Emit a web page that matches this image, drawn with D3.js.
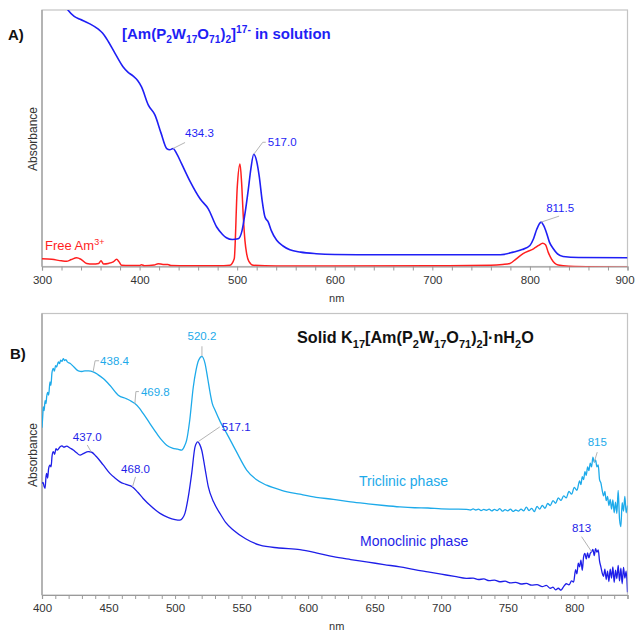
<!DOCTYPE html>
<html>
<head>
<meta charset="utf-8">
<script src="https://cdn.jsdelivr.net/npm/d3@7"></script>
<style>
  html, body { margin: 0; padding: 0; background: #fff; }
  svg { display: block; font-family: "Liberation Sans", Arial, sans-serif; }
</style>
</head>
<body>
<svg id="chart" width="636" height="631"></svg>
<script>
// ---------- Panel A: solution spectra (wavelength nm, absorbance a.u.) ----------
const complexSolution = [
  [314,1.08],[320,1.04],[326.6,1.0],[333,0.975],[339,0.964],[348,0.948],[357.7,0.925],
  [362,0.91],[366,0.889],[375,0.83],[383,0.779],[388,0.758],[393.5,0.742],[398,0.725],
  [402,0.700],[409,0.629],[415.8,0.590],[422,0.52],[427.8,0.460],[431,0.455],[434.3,0.460],
  [438,0.44],[443,0.401],[452,0.33],[462,0.264],[470.4,0.225],[479,0.154],[485,0.125],
  [489,0.112],[495,0.105],[501,0.108],[505,0.14],[508,0.206],[511.4,0.30],[514,0.38],
  [517.0,0.4375],[520,0.41],[522.7,0.349],[525.5,0.26],[528.5,0.193],[531.9,0.173],
  [535,0.14],[540.5,0.102],[547,0.08],[554,0.065],[565,0.056],[581,0.050],[600,0.047],
  [632.7,0.046],[700,0.046],[769.8,0.046],[783,0.056],[792,0.066],[800,0.082],
  [803.7,0.108],[807,0.145],[811.5,0.173],[814,0.16],[817.3,0.128],[820,0.095],
  [824,0.069],[828,0.05],[834,0.039],[850,0.035],[900,0.034]
];
const freeAm = [
  [300,0.030],[310,0.028],[320,0.022],[325,0.020],[330,0.027],[335.5,0.034],[340,0.028],
  [345.8,0.012],[352,0.010],[358,0.012],[360.5,0.022],[363,0.010],[368,0.012],[373,0.018],
  [376.5,0.028],[379,0.018],[381.6,0.005],[390,0.004],[400,0.004],[402,0.007],[405,0.003],
  [415,0.006],[419,0.011],[424,0.008],[429,0.008],[432,0.004],[450,0.003],[480,0.003],
  [492.6,0.005],[497,0.03],[500.1,0.31],[502.9,0.40],[504.5,0.33],[506.3,0.193],[508,0.10],
  [509.7,0.05],[512,0.02],[516.5,0.005],[540,0.002],[600,0.002],[700,0.003],[760,0.005],
  [772,0.008],[779.5,0.012],[786,0.030],[793,0.05],[803.7,0.069],[809,0.082],[813,0.091],
  [816,0.085],[818.8,0.055],[822,0.030],[829,0.006],[840,0.001],[900,-0.003]
];
const solutionPeaks = [434.3, 517.0, 811.5];

// ---------- Panel B: solid-state spectra ----------
const triclinic = [
  [400,0.594],[400.6,0.64],[401,0.668],[401.6,0.655],[402.3,0.69],[403,0.68],[403.5,0.704],
  [404.3,0.72],[405,0.71],[406,0.757],[406.7,0.745],[407.5,0.79],[408.5,0.805],[409.3,0.795],
  [410.2,0.815],[411,0.81],[412.3,0.828],[413.2,0.822],[414,0.834],[415,0.83],[416,0.840],
  [417,0.833],[418,0.836],[419,0.828],[421,0.823],[424,0.81],[427.3,0.796],[430,0.794],
  [432.3,0.796],[435,0.796],[438.4,0.793],[442,0.783],[446,0.769],[451,0.745],[457.3,0.710],
  [463.6,0.697],[466.5,0.690],[469.8,0.680],[473,0.665],[476,0.645],[481,0.61],[486.2,0.574],
  [490,0.55],[493.7,0.532],[498,0.522],[502,0.518],[505,0.515],[507,0.528],[508.7,0.550],
  [511,0.62],[513.7,0.739],[515.8,0.80],[517.7,0.834],[520.2,0.848],[522.5,0.823],
  [524.5,0.77],[526.2,0.722],[528,0.68],[530,0.657],[534,0.615],[538.8,0.574],[546,0.51],
  [553.8,0.444],[561,0.41],[568.8,0.390],[580,0.372],[593.8,0.358],[606,0.347],[618.9,0.340],
  [632,0.331],[645,0.324],[657,0.318],[669,0.313],[680,0.31],[690,0.309],[700,0.306],
  [710,0.305],[719,0.304],[722,0.302],[724,0.306],[726,0.302],[728,0.305],[730,0.300],
  [732,0.304],[734,0.301],[736,0.305],[738,0.299],[740,0.304],[742,0.300],[744,0.307],
  [746,0.298],[748,0.303],[750,0.299],[752,0.305],[754,0.297],[756,0.302],[758,0.298],
  [760,0.305],[762,0.299],[764,0.312],[766,0.300],[768,0.308],[770,0.296],[772,0.315],
  [774,0.305],[776,0.318],[778,0.308],[780,0.325],[782,0.318],[784,0.335],[786,0.326],
  [788,0.345],[790,0.336],[792,0.352],[794,0.345],[796,0.368],[798,0.358],[800,0.382],
  [802,0.372],[804,0.405],[805,0.392],[806,0.420],[807,0.410],[808,0.438],[809,0.425],
  [810,0.455],[811,0.442],[812,0.468],[813,0.455],[814,0.490],[815,0.472],[816,0.480],
  [817,0.455],[818,0.462],[819,0.410],[820,0.398],[821,0.372],[822,0.352],[823,0.368],
  [824,0.335],[825,0.350],[826,0.318],[827,0.340],[828,0.305],[829,0.338],[830,0.292],
  [831,0.330],[832,0.290],[833,0.372],[834,0.270],[835,0.243],[836,0.328],[837,0.298],
  [838,0.350],[839,0.292],[840,0.318]
];
const monoclinic = [
  [400,0.396],[400.8,0.40],[401.6,0.385],[402.3,0.379],[403,0.42],[403.5,0.432],[404.2,0.415],
  [405,0.45],[406,0.461],[406.8,0.455],[407.6,0.495],[408.5,0.509],[409.5,0.50],[410.5,0.52],
  [411.5,0.515],[413.5,0.526],[415,0.530],[416.5,0.525],[418.5,0.529],[421,0.522],[423.5,0.515],
  [426,0.505],[428.6,0.497],[431,0.502],[434.8,0.509],[437,0.508],[441,0.491],[446,0.462],
  [451,0.432],[455,0.415],[458.6,0.402],[463,0.393],[468,0.384],[472,0.365],[476,0.343],
  [482,0.315],[488.7,0.290],[495,0.275],[500,0.268],[503.7,0.266],[505.5,0.272],[507.4,0.290],
  [510,0.35],[512.5,0.432],[515,0.526],[517.1,0.544],[518.5,0.535],[520,0.515],[522.5,0.45],
  [525,0.384],[529,0.33],[533.7,0.290],[538,0.258],[543.7,0.231],[553,0.2],[563.8,0.177],
  [578,0.167],[593.8,0.161],[606,0.15],[618.9,0.136],[632,0.126],[645,0.117],[657,0.108],
  [669,0.100],[680,0.090],[690,0.082],[700,0.074],[710,0.066],[719,0.059],[724,0.060],
  [728,0.055],[732,0.057],[736,0.051],[740,0.053],[744,0.047],[748,0.049],[752,0.043],
  [756,0.045],[760,0.039],[764,0.041],[768,0.035],[772,0.037],[776,0.030],[779,0.034],
  [782,0.024],[784,0.028],[786,0.018],[788,0.024],[790,0.017],[792,0.030],[794,0.040],
  [796,0.036],[798,0.050],[799.5,0.046],[801,0.090],[802,0.075],[803,0.113],[804,0.100],
  [805,0.124],[806,0.088],[807,0.135],[808,0.148],[809,0.128],[810,0.150],[811,0.132],
  [812,0.148],[813,0.154],[814,0.162],[815,0.140],[816,0.165],[817,0.152],[818,0.160],
  [819,0.120],[820,0.100],[821,0.078],[822,0.066],[823,0.092],[824,0.055],[825,0.085],
  [826,0.048],[827,0.092],[828,0.060],[829,0.100],[830,0.045],[831,0.088],[832,0.058],
  [833,0.105],[834,0.050],[835,0.095],[836,0.040],[837,0.098],[838,0.060],[839,0.085],
  [840,0.010]
];

const ticksA = [300, 400, 500, 600, 700, 800, 900];
const ticksB = [400, 450, 500, 550, 600, 650, 700, 750, 800];

const BLUE_A = "#1f1ff5";
const RED_A = "#ff1f1f";
const CYAN_B = "#1daaea";
const BLUE_B = "#1e1ee8";
const LEADER = "#b4b4b4";

const svg = d3.select("#chart");

// Text with chemical subscripts / superscripts: segments are [text, kind]
function richText(parent, x, y, segs, size, attrs) {
  const t = parent.append("text").attr("x", x).attr("y", y).attr("font-size", size);
  Object.entries(attrs || {}).forEach(([k, v]) => t.attr(k, v));
  let shift = 0;
  segs.forEach(([s, kind]) => {
    let target = 0, fs = size;
    if (kind === "sub") { target = size * 0.28; fs = size * 0.68; }
    if (kind === "sup") { target = -size * 0.38; fs = size * 0.68; }
    t.append("tspan").attr("dy", target - shift).attr("font-size", fs).text(s);
    shift = target;
  });
  return t;
}

function panel(cfg) {
  const g = svg.append("g");
  const x = d3.scaleLinear().domain(cfg.xDomain).range([cfg.left, cfg.right]);
  const y = d3.scaleLinear().domain([0, 1]).range([cfg.bottom, cfg.top]);

  // frame
  g.append("rect")
    .attr("x", cfg.left).attr("y", cfg.top)
    .attr("width", cfg.right - cfg.left).attr("height", cfg.bottom - cfg.top)
    .attr("fill", "none").attr("stroke", "#c4c4c4").attr("stroke-width", 1.2);
  g.append("line")
    .attr("x1", cfg.left).attr("x2", cfg.left).attr("y1", cfg.top).attr("y2", cfg.bottom)
    .attr("stroke", "#9a9a9a").attr("stroke-width", 1.2);

  // minor ticks
  const minor = d3.axisBottom(x).tickValues(d3.range(cfg.xDomain[0], cfg.xDomain[1] + 0.01, cfg.minorStep))
    .tickSize(4).tickFormat("");
  const gm = g.append("g").attr("transform", `translate(0,${cfg.bottom})`).call(minor);
  gm.select(".domain").attr("stroke", "#9a9a9a").attr("stroke-width", 1.2);
  gm.selectAll(".tick line").attr("stroke", "#9a9a9a");

  // labelled ticks
  const major = d3.axisBottom(x).tickValues(cfg.ticks).tickSize(0).tickPadding(9).tickFormat(d3.format("d"));
  const ga = g.append("g").attr("transform", `translate(0,${cfg.bottom})`).call(major);
  ga.select(".domain").remove();
  ga.selectAll(".tick text").attr("font-size", 11.5).attr("fill", "#333")
    .attr("font-family", "'Liberation Sans', Arial, sans-serif");
  // keep the last label inside the page edge
  ga.selectAll(".tick text").filter(d => x(d) > 620).attr("dx", -3);

  g.append("text").attr("x", (cfg.left + cfg.right) / 2 + 2).attr("y", cfg.bottom + 35)
    .attr("text-anchor", "middle").attr("font-size", 11).attr("fill", "#333").text("nm");
  g.append("text")
    .attr("transform", `translate(${cfg.left - 5},${cfg.ylabelY}) rotate(-90)`)
    .attr("text-anchor", "middle").attr("font-size", 12).attr("fill", "#333").text("Absorbance");

  const clipId = "clip" + cfg.name;
  g.append("clipPath").attr("id", clipId).append("rect")
    .attr("x", cfg.left).attr("y", cfg.top)
    .attr("width", cfg.right - cfg.left).attr("height", cfg.bottom - cfg.top);

  const line = d3.line().x(d => x(d[0])).y(d => y(d[1])).curve(d3.curveMonotoneX);
  const plot = g.append("g").attr("clip-path", `url(#${clipId})`);
  cfg.series.forEach(s => {
    plot.append("path").datum(s.data).attr("d", line)
      .attr("fill", "none").attr("stroke", s.color).attr("stroke-width", s.width)
      .attr("stroke-linejoin", "round");
  });
  return { g, x, y };
}

// interpolate a series value at a wavelength (for anchoring peak labels)
function valueAt(data, nm) {
  const i = d3.bisector(d => d[0]).left(data, nm);
  if (i <= 0) return data[0][1];
  if (i >= data.length) return data[data.length - 1][1];
  const a = data[i - 1], b = data[i];
  return a[1] + (b[1] - a[1]) * (nm - a[0]) / (b[0] - a[0]);
}

// peak label with a thin grey leader: dx/dy = leader end offset, elbow = horizontal run
function peakLabel(p, data, nm, text, color, dx, dy, elbow, anchor, tdx, tdy) {
  const px = p.x(nm), py = p.y(valueAt(data, nm));
  const ex = px + dx, ey = py + dy;
  const pts = [[px, py], [ex, ey]];
  if (elbow) pts.push([ex + elbow, ey]);
  p.g.append("path").attr("d", d3.line()(pts)).attr("fill", "none")
    .attr("stroke", LEADER).attr("stroke-width", 1);
  const last = pts[pts.length - 1];
  p.g.append("text").attr("x", last[0] + tdx).attr("y", last[1] + tdy)
    .attr("text-anchor", anchor).attr("font-size", 11.5).attr("fill", color).text(text);
}

// ---------- Panel A ----------
const pA = panel({
  name: "A", left: 42, right: 627.5, top: 10, bottom: 266.5,
  xDomain: [300, 900], minorStep: 20, ticks: ticksA, ylabelY: 139,
  series: [
    { data: freeAm, color: RED_A, width: 1.5 },
    { data: complexSolution, color: BLUE_A, width: 1.6 }
  ]
});
peakLabel(pA, complexSolution, solutionPeaks[0], "434.3", BLUE_A, 12, -6, 0, "start", 0, -6);
peakLabel(pA, complexSolution, solutionPeaks[1], "517.0", BLUE_A, 9, -12, 3, "start", 2, 4);
peakLabel(pA, complexSolution, solutionPeaks[2], "811.5", BLUE_A, 18, -6, 0, "start", -13, -4);

svg.append("text").attr("x", 8).attr("y", 40).attr("font-size", 15).attr("font-weight", "bold")
  .attr("fill", "#111").text("A)");
richText(svg, 122, 39, [["[Am(P", null], ["2", "sub"], ["W", null], ["17", "sub"], ["O", null],
  ["71", "sub"], [")", null], ["2", "sub"], ["]", null], ["17-", "sup"], [" in solution", null]],
  15, { "font-weight": "bold", fill: BLUE_A });
svg.append("text").attr("x", 45).attr("y", 250).attr("font-size", 13).attr("fill", RED_A)
  .call(t => { t.append("tspan").text("Free Am"); t.append("tspan").attr("dy", -5).attr("font-size", 9).text("3+"); });

// ---------- Panel B ----------
const pB = panel({
  name: "B", left: 42, right: 627.5, top: 313.5, bottom: 595,
  xDomain: [400, 840], minorStep: 10, ticks: ticksB, ylabelY: 455,
  series: [
    { data: triclinic, color: CYAN_B, width: 1.3 },
    { data: monoclinic, color: BLUE_B, width: 1.3 }
  ]
});
peakLabel(pB, triclinic, 438.4, "438.4", CYAN_B, 2, -11, 4, "start", 1, 4);
peakLabel(pB, triclinic, 469.8, "469.8", CYAN_B, 1, -12, 3, "start", 2, 4);
peakLabel(pB, triclinic, 520.2, "520.2", CYAN_B, 0, -10, 0, "middle", 0, -6);
peakLabel(pB, triclinic, 815, "815", CYAN_B, 3, -10, 0, "middle", 0, -6);
peakLabel(pB, monoclinic, 437.0, "437.0", BLUE_B, -4, -7, 0, "middle", 0, -4);
peakLabel(pB, monoclinic, 468.0, "468.0", BLUE_B, 3, -10, 0, "middle", 0, -4);
peakLabel(pB, monoclinic, 517.1, "517.1", BLUE_B, 22, -15, 0, "start", 2, 4);
peakLabel(pB, monoclinic, 813, "813", BLUE_B, -10, -15, 0, "middle", 0, -5);

svg.append("text").attr("x", 10).attr("y", 359).attr("font-size", 15).attr("font-weight", "bold")
  .attr("fill", "#111").text("B)");
richText(svg, 297, 343, [["Solid K", null], ["17", "sub"], ["[Am(P", null], ["2", "sub"], ["W", null],
  ["17", "sub"], ["O", null], ["71", "sub"], [")", null], ["2", "sub"], ["]·nH", null], ["2", "sub"],
  ["O", null]], 16.2, { "font-weight": "bold", fill: "#111" });
svg.append("text").attr("x", 359).attr("y", 486).attr("font-size", 14).attr("fill", CYAN_B).text("Triclinic phase");
svg.append("text").attr("x", 360).attr("y", 546).attr("font-size", 14).attr("fill", BLUE_B).text("Monoclinic phase");
</script>
</body>
</html>
